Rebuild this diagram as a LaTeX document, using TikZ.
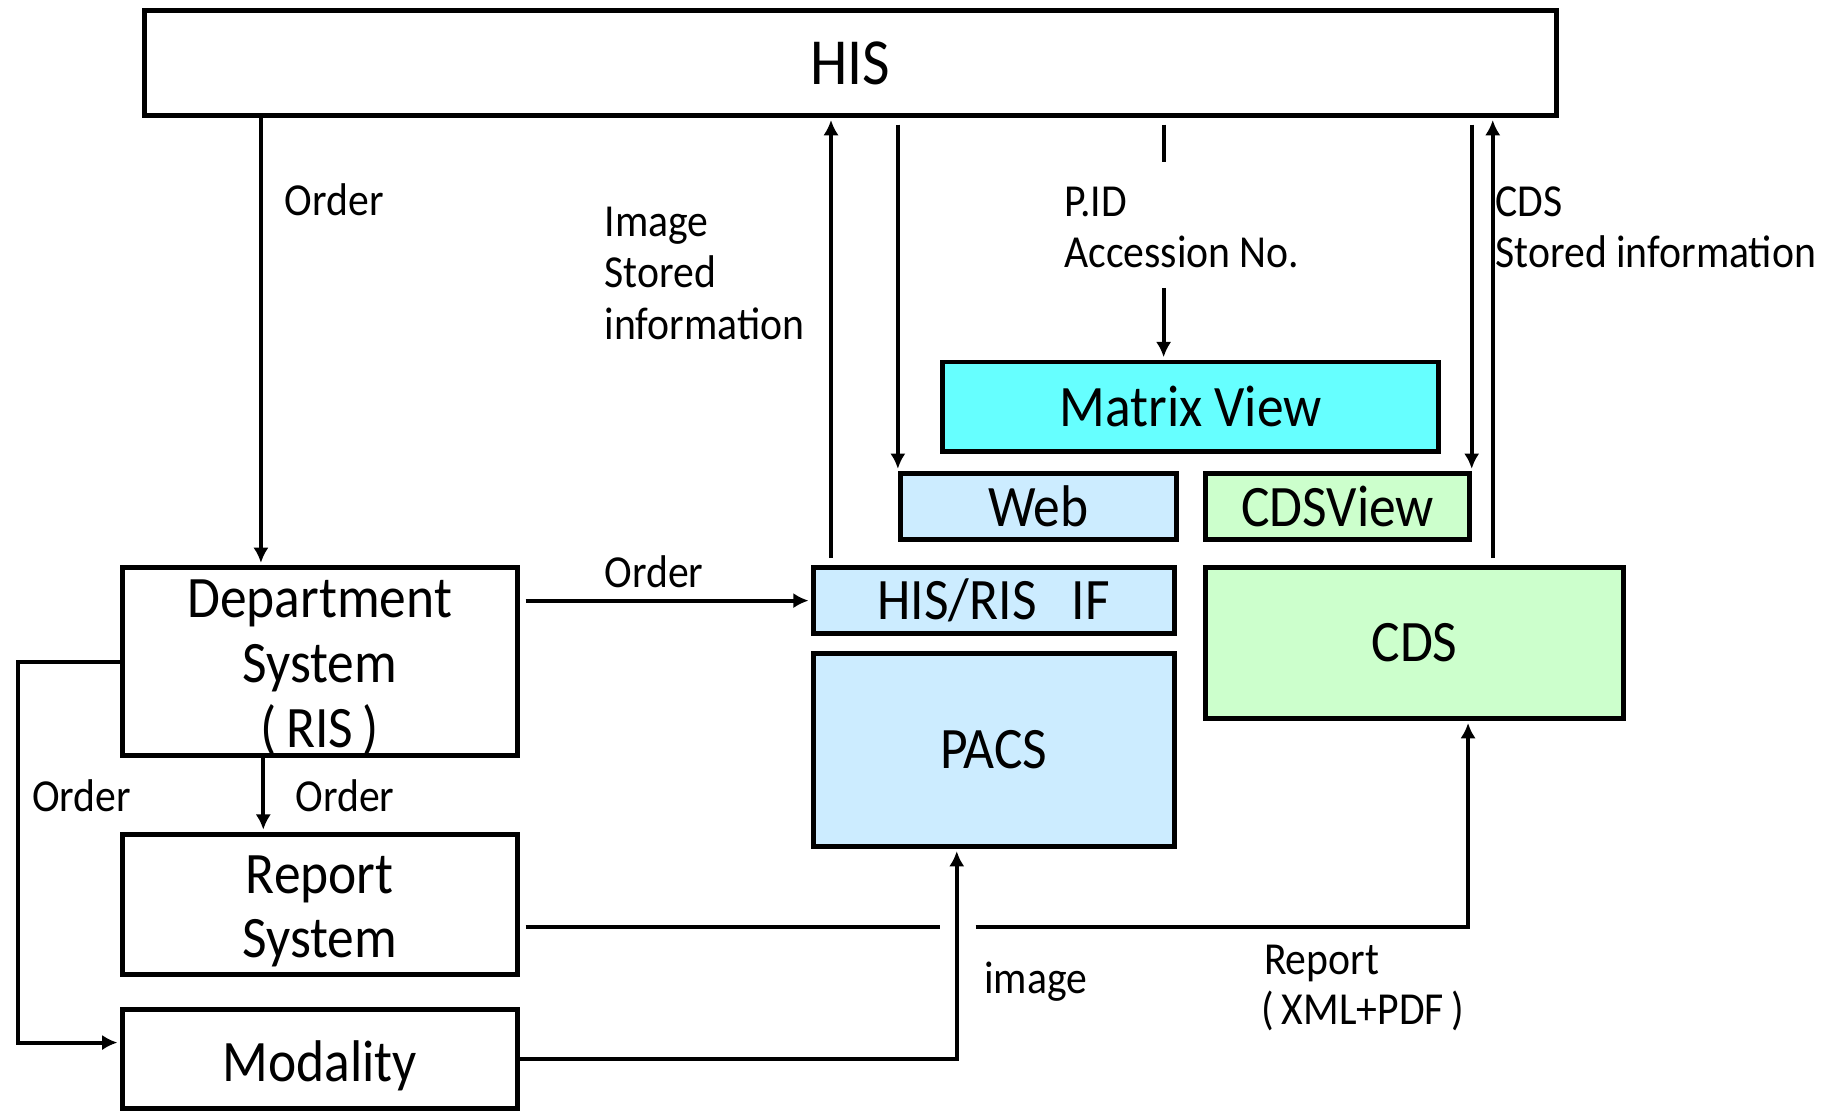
\documentclass[tikz,border=0pt]{standalone}
\usepackage{fontspec}
\setmainfont{Carlito}[FakeStretch=0.91]
\usetikzlibrary{arrows.meta}
\definecolor{mviewfill}{HTML}{66FFFF}
\definecolor{pacsfill}{HTML}{CCECFF}
\definecolor{cdsfill}{HTML}{CCFFCC}
% a zero-width rule that raises the top of the first text line
\newcommand{\topstrut}[1]{\rule{0pt}{#1}}
\begin{document}
\begin{tikzpicture}[x=0.5pt,y=-0.5pt,
  box/.style={draw, line width=2.1pt, inner sep=0pt, align=center,
    font=\fontsize{25}{27.5}\selectfont},
  lbl/.style={anchor=base west, inner sep=0pt, font=\fontsize{19.5}{22}\selectfont},
  conn/.style={line width=1.7pt},
  arr/.style={conn, -{Latex[length=6.5pt,width=6.5pt]}, shorten >=1pt}]
\useasboundingbox (0,0) rectangle (1568,947);

% systems
\node[box, minimum width=600.5pt, minimum height=44.5pt, font=\fontsize{28}{30}\selectfont] (HIS) at (723.5,53.5) {HIS};
\node[box, fill=mviewfill, minimum width=211pt, minimum height=38pt] (mview) at (1013,346) {Matrix View};
\node[box, fill=pacsfill, minimum width=117.5pt, minimum height=28pt] (web) at (883.5,431) {Web};
\node[box, fill=cdsfill, minimum width=112pt, minimum height=28pt] (cdsview) at (1138,431) {CDSView};
\node[box, fill=pacsfill, minimum width=153.5pt, minimum height=28pt] (hisris) at (845.5,511) {HIS/RIS\hspace{15pt}IF};
\node[box, fill=pacsfill, minimum width=153.5pt, minimum height=82pt] (pacs) at (845.5,638) {PACS};
\node[box, fill=cdsfill, minimum width=177.5pt, minimum height=64pt] (cds) at (1203.5,547) {CDS};
\node[box, minimum width=168pt, minimum height=80pt] (dept) at (272,563) {\topstrut{21pt}Department\\System\\(\,RIS\,)};
\node[box, minimum width=168pt, minimum height=59.5pt] (report) at (272,769.5) {\topstrut{22pt}Report\\System};
\node[box, minimum width=168pt, minimum height=42pt] (modality) at (272,901) {\topstrut{23pt}Modality};

% routing points
\coordinate (xo) at (222,0);
\coordinate (ximg) at (707,0);
\coordinate (xpid) at (990,0);
\coordinate (xcds) at (1270,0);
\coordinate (pidA) at (990,138);
\coordinate (pidB) at (990,245);
\coordinate (xrep) at (224,0);
\coordinate (lft) at (15,0);
\coordinate (ymod) at (0,887);
\coordinate (rgapl) at (800,789);
\coordinate (rgapr) at (830,789);
\coordinate (rturn) at (1249,789);
\coordinate (ximage) at (814,0);

% connectors
\draw[arr] (HIS.south -| xo) -- (dept.north -| xo);
\draw[arr, shorten <=3pt] (hisris.north -| ximg) -- (HIS.south -| ximg);
\draw[arr, shorten <=3pt] (HIS.south -| web.north west) -- (web.north west);
\draw[conn, shorten <=3pt] (HIS.south -| xpid) -- (pidA);
\draw[arr] (pidB) -- (mview.north -| xpid);
\draw[arr, shorten <=3pt] (HIS.south -| cdsview.north east) -- (cdsview.north east);
\draw[arr, shorten <=3pt] (cds.north -| xcds) -- (HIS.south -| xcds);
\draw[arr, shorten <=2.5pt] (dept.east |- hisris.west) -- (hisris.west);
\draw[arr] (dept.south -| xrep) -- (report.north -| xrep);
\draw[arr] (dept.west) -- (dept.west -| lft) |- (modality.west |- ymod);
\draw[conn, shorten <=2.5pt] (report.east |- rgapl) -- (rgapl);
\draw[arr] (rgapr) -- (rturn) -- (cds.south -| rturn);
\draw[arr] (modality.east) -| (pacs.south -| ximage);

% connector labels
\node[lbl] (lOrderTop) at (242,183) {Order};
\node[lbl] (lImg1) at (514,201) {Image};
\node[lbl] (lImg2) at (514,245) {Stored};
\node[lbl] (lImg3) at (514,289) {information};
\node[lbl] (lPid1) at (905,184) {P.ID};
\node[lbl] (lPid2) at (905,228) {Accession No.};
\node[lbl] (lCds1) at (1272,184) {CDS};
\node[lbl] (lCds2) at (1272,228) {Stored information};
\node[lbl] (lOrderMid) at (514,500) {Order};
\node[lbl] (lOrderLeft) at (27,690) {Order};
\node[lbl] (lOrderRep) at (251,690) {Order};
\node[lbl] (lImage) at (837,845) {image};
\node[lbl] (lRep1) at (1075,829) {Report};
\node[lbl] (lRep2) at (1073,872) {(\,XML+PDF\,)};
\end{tikzpicture}
\end{document}
